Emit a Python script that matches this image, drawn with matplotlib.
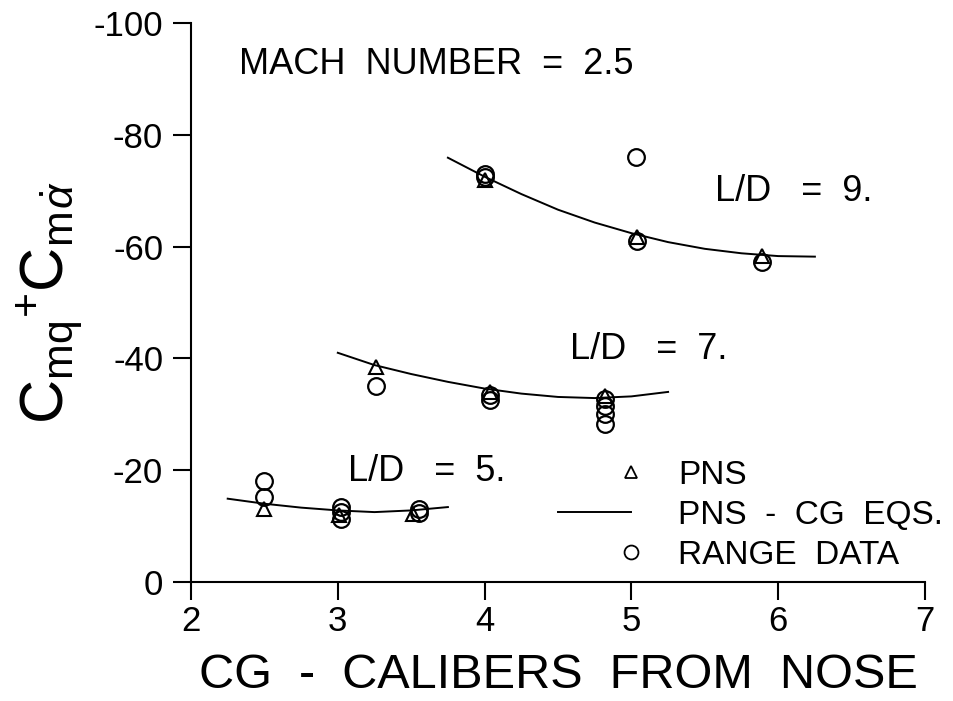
import numpy as np
import matplotlib
matplotlib.use("Agg")
import matplotlib.pyplot as plt
from matplotlib.lines import Line2D
from matplotlib.legend_handler import HandlerLine2D

plt.rcParams['font.family'] = ['Liberation Sans', 'DejaVu Sans']
plt.rcParams['mathtext.fontset'] = 'custom'
plt.rcParams['mathtext.rm'] = 'Liberation Sans'
plt.rcParams['mathtext.it'] = 'Liberation Sans:italic'
plt.rcParams['axes.unicode_minus'] = False

# L/D = 9
ld9_pns_x = [4.0, 5.04, 5.89]
ld9_pns_y = [-72.0, -61.8, -58.3]
ld9_range_x = [4.0, 4.0, 5.03, 5.04, 5.89]
ld9_range_y = [-72.5, -73.0, -76.0, -61.0, -57.2]
ld9_curve_x = [3.75, 4.0, 4.25, 4.5, 4.75, 5.0, 5.25, 5.5, 5.75, 6.0, 6.25]
ld9_curve_y = [-75.9, -72.5, -69.4, -66.6, -64.3, -62.4, -60.8, -59.6, -58.8, -58.3, -58.2]

# L/D = 7
ld7_pns_x = [3.26, 4.04, 4.82]
ld7_pns_y = [-38.5, -34.0, -33.3]
ld7_range_x = [3.26, 4.04, 4.04, 4.82, 4.82, 4.82, 4.82]
ld7_range_y = [-35.0, -33.5, -32.5, -32.8, -31.5, -30.0, -28.3]
ld7_curve_x = [3.0, 3.25, 3.5, 3.75, 4.0, 4.25, 4.5, 4.75, 5.0, 5.25]
ld7_curve_y = [-41.0, -38.8, -37.2, -35.8, -34.6, -33.7, -33.1, -32.9, -33.2, -34.0]

# L/D = 5
ld5_pns_x = [2.5, 3.01, 3.51]
ld5_pns_y = [-13.0, -12.0, -12.2]
ld5_range_x = [2.5, 2.5, 3.02, 3.02, 3.02, 3.55, 3.55]
ld5_range_y = [-18.0, -15.2, -13.5, -12.5, -11.3, -13.0, -12.3]
ld5_curve_x = [2.25, 2.5, 2.75, 3.0, 3.25, 3.5, 3.75]
ld5_curve_y = [-14.9, -14.0, -13.3, -12.8, -12.5, -12.8, -13.4]

xticks = [2, 3, 4, 5, 6, 7]
yticks = [0, -20, -40, -60, -80, -100]


class RightMarker(HandlerLine2D):
    # put the legend marker at the right end of the key
    def get_xdata(self, legend, xdescent, ydescent, width, height, fontsize):
        x = width - xdescent
        return np.array([x]), np.array([x])


fig = plt.figure(figsize=(9.54, 7.01), dpi=100)
ax = fig.add_axes([0.2002, 0.1698, 0.7694, 0.7974])

curves = [(ld9_curve_x, ld9_curve_y), (ld7_curve_x, ld7_curve_y), (ld5_curve_x, ld5_curve_y)]
pns = [(ld9_pns_x, ld9_pns_y), (ld7_pns_x, ld7_pns_y), (ld5_pns_x, ld5_pns_y)]
rng = [(ld9_range_x, ld9_range_y), (ld7_range_x, ld7_range_y), (ld5_range_x, ld5_range_y)]

for cx, cy in curves:
    ax.plot(cx, cy, color='black', lw=1.4)
for px, py in pns:
    ax.plot(px, py, linestyle='none', marker='^', ms=10, mfc='none', mec='black', mew=1.5)
for rx, ry in rng:
    ax.plot(rx, ry, linestyle='none', marker='o', ms=12, mfc='none', mec='black', mew=1.6)

ax.set_xlim(2, 7)
ax.set_ylim(0, -100)
ax.set_xticks(xticks)
ax.set_yticks(yticks)
ax.tick_params(direction='out', length=13, width=1.5, labelsize=25)
ax.tick_params(axis='y', pad=7)
for s in ['top', 'right']:
    ax.spines[s].set_visible(False)
for s in ['left', 'bottom']:
    ax.spines[s].set_linewidth(1.5)

ax.set_xlabel('CG  -  CALIBERS  FROM  NOSE', fontsize=35, labelpad=11)
ax.set_ylabel(r'$\mathrm{C_{mq}}^{+}\mathrm{C_{m}}_{\dot{\alpha}}$', fontsize=44, labelpad=6)

ax.text(2.33, -92.5, 'MACH  NUMBER  =  2.5', fontsize=26, va='center')
ax.text(5.57, -69.8, 'L/D   =  9.', fontsize=26, va='center')
ax.text(4.58, -41.5, 'L/D   =  7.', fontsize=26, va='center')
ax.text(3.07, -19.7, 'L/D   =  5.', fontsize=26, va='center')

handles = [
    Line2D([], [], linestyle='none', marker='^', ms=8, mfc='none', mec='black', mew=1.3),
    Line2D([], [], color='black', lw=1.4),
    Line2D([], [], linestyle='none', marker='o', ms=10, mfc='none', mec='black', mew=1.3),
]
labels = ['PNS', 'PNS  -  CG  EQS.', 'RANGE  DATA']
ax.legend(handles, labels, loc='lower left', bbox_to_anchor=(0.459, -0.034), frameon=False,
          fontsize=24, handlelength=2.2, handletextpad=1.4, labelspacing=0.27,
          handler_map={handles[0]: RightMarker(), handles[2]: RightMarker()})

fig.savefig('out.png', dpi=100)
